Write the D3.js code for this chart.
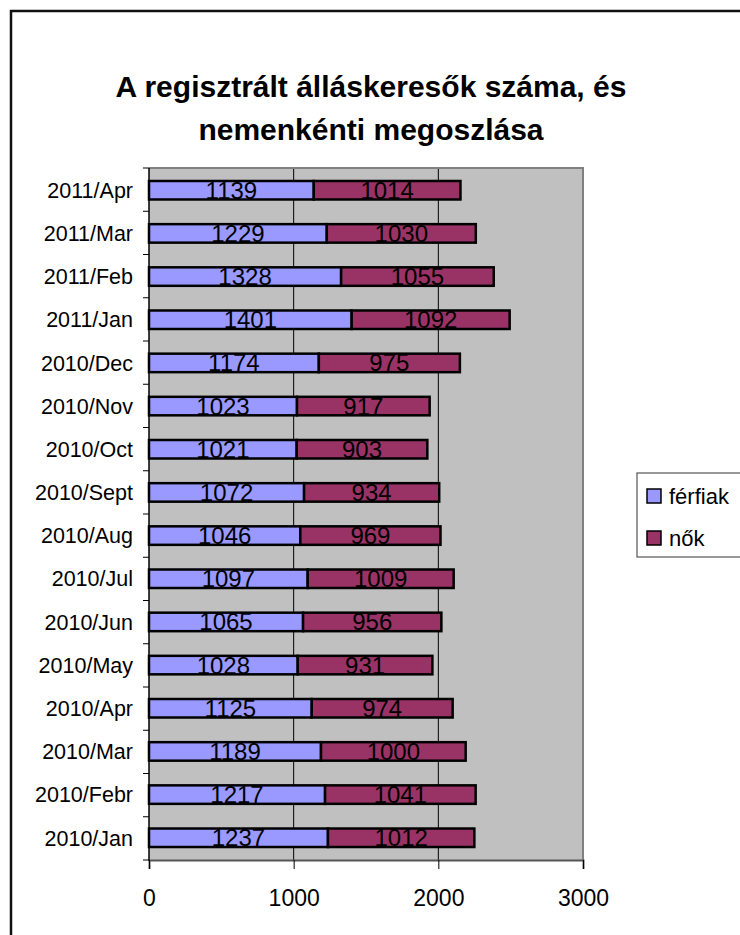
<!DOCTYPE html>
<html>
<head>
<meta charset="utf-8">
<script src="https://cdn.jsdelivr.net/npm/d3@7/dist/d3.min.js"></script>
<style>
  body { margin: 0; background: #fff; }
  text { font-family: "Liberation Sans", Arial, sans-serif; }
</style>
</head>
<body>
<svg width="740" height="935"></svg>
<script>
// data, bottom to top as in the picture
const months = ['2010/Jan', '2010/Febr', '2010/Mar', '2010/Apr', '2010/May', '2010/Jun',
  '2010/Jul', '2010/Aug', '2010/Sept', '2010/Oct', '2010/Nov', '2010/Dec',
  '2011/Jan', '2011/Feb', '2011/Mar', '2011/Apr'];
const ferfiak = [1237, 1217, 1189, 1125, 1028, 1065, 1097, 1046, 1072, 1021, 1023, 1174, 1401, 1328, 1229, 1139];
const nok = [1012, 1041, 1000, 974, 931, 956, 1009, 969, 934, 903, 917, 975, 1092, 1055, 1030, 1014];
const seriesNames = ['férfiak', 'nők'];
const xTicks = [0, 1000, 2000, 3000];

const svg = d3.select('svg');
const colors = ['#9999FF', '#993366'];

const margin = { top: 168, left: 149, right: 157, bottom: 75 };
const width = +svg.attr('width');
const height = +svg.attr('height');
const innerWidth = 583 - margin.left;
const innerHeight = 860 - margin.top;

// outer frame
svg.append('rect')
  .attr('x', 11).attr('y', 11)
  .attr('width', 760).attr('height', 960)
  .attr('fill', 'none').attr('stroke', '#111').attr('stroke-width', 2.5);

// title
const title = svg.append('text')
  .attr('text-anchor', 'middle')
  .attr('font-weight', 'bold')
  .attr('font-size', 30);
title.append('tspan').attr('x', 371).attr('y', 97).text('A regisztrált álláskeresők száma, és');
title.append('tspan').attr('x', 371).attr('y', 140).text('nemenkénti megoszlása');

const table = months.map((m, i) => ({ month: m, ferfiak: ferfiak[i], nok: nok[i] }));
const stacked = d3.stack().keys(['ferfiak', 'nok'])(table);

const xScale = d3.scaleLinear().domain([0, 3000]).range([0, innerWidth]);
const yScale = d3.scaleBand()
  .domain(months.slice().reverse())
  .range([0, innerHeight])
  .paddingInner(0.57).paddingOuter(0.3);
const band = innerHeight / months.length;

const g = svg.append('g').attr('transform', `translate(${margin.left},${margin.top})`);

// plot area
g.append('rect')
  .attr('width', innerWidth).attr('height', innerHeight)
  .attr('fill', '#C0C0C0');

// gridlines
g.append('g')
  .selectAll('line').data(xTicks.slice(1, -1))
  .join('line')
    .attr('x1', d => xScale(d)).attr('x2', d => xScale(d))
    .attr('y1', 0).attr('y2', innerHeight)
    .attr('stroke', '#000').attr('stroke-width', 1);

// plot border top/right
g.append('path')
  .attr('d', `M0,0H${innerWidth}V${innerHeight}`)
  .attr('fill', 'none').attr('stroke', '#808080').attr('stroke-width', 2);

// bars
const barH = 18.5;
const layers = g.selectAll('.layer').data(stacked).join('g')
  .attr('class', 'layer')
  .attr('fill', (d, i) => colors[i]);

layers.selectAll('rect').data(d => d).join('rect')
  .attr('x', d => xScale(d[0]))
  .attr('y', d => yScale(d.data.month) + yScale.bandwidth() / 2 - barH / 2)
  .attr('width', d => xScale(d[1]) - xScale(d[0]))
  .attr('height', barH)
  .attr('stroke', '#000').attr('stroke-width', 2.5);

// value labels
layers.selectAll('text').data(d => d).join('text')
  .attr('x', d => xScale((d[0] + d[1]) / 2))
  .attr('y', d => yScale(d.data.month) + yScale.bandwidth() / 2 + 8.5)
  .attr('text-anchor', 'middle')
  .attr('font-size', 24)
  .attr('fill', '#000')
  .text(d => d[1] - d[0]);

// x axis
const xAxisG = g.append('g')
  .attr('transform', `translate(0,${innerHeight})`)
  .call(d3.axisBottom(xScale).tickValues(xTicks).tickSize(9).tickPadding(21).tickFormat(d3.format('d')));
xAxisG.select('.domain').attr('stroke', '#555').attr('stroke-width', 2);
xAxisG.selectAll('.tick line').attr('stroke', '#000');
xAxisG.selectAll('.tick text')
  .attr('font-size', 23).attr('fill', '#000')
  .attr('font-family', '"Liberation Sans", Arial, sans-serif');

// y axis: line + ticks at band boundaries
const yAxisG = g.append('g');
yAxisG.append('line')
  .attr('x1', 0).attr('x2', 0).attr('y1', 0).attr('y2', innerHeight + 1)
  .attr('stroke', '#000').attr('stroke-width', 1.5);
yAxisG.selectAll('.ytick').data(d3.range(months.length + 1))
  .join('line')
    .attr('class', 'ytick')
    .attr('x1', -6).attr('x2', 0)
    .attr('y1', i => i * band).attr('y2', i => i * band)
    .attr('stroke', '#000');
yAxisG.selectAll('.ylabel').data(months)
  .join('text')
    .attr('class', 'ylabel')
    .attr('x', -16)
    .attr('y', d => yScale(d) + yScale.bandwidth() / 2)
    .attr('dy', '0.36em')
    .attr('text-anchor', 'end')
    .attr('font-size', 21.5)
    .text(d => d);

// legend
const legend = svg.append('g').attr('transform', 'translate(637,473)');
legend.append('rect')
  .attr('width', 120).attr('height', 84)
  .attr('fill', '#fff').attr('stroke', '#555').attr('stroke-width', 1.2);
const items = legend.selectAll('.item').data(seriesNames).join('g')
  .attr('class', 'item')
  .attr('transform', (d, i) => `translate(10,${16 + i * 42})`);
items.append('rect')
  .attr('width', 14).attr('height', 14)
  .attr('fill', (d, i) => colors[i])
  .attr('stroke', '#000').attr('stroke-width', 1.5);
items.append('text')
  .attr('x', 22).attr('y', 14.5)
  .attr('font-size', 22)
  .text(d => d);
</script>
</body>
</html>
